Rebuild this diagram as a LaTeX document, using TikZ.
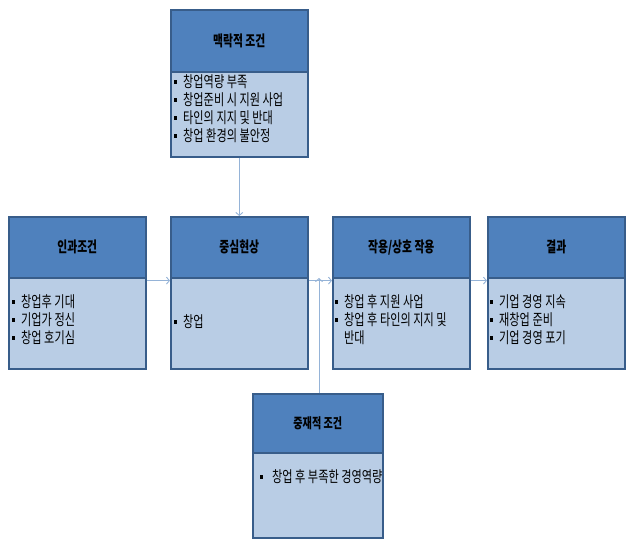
\documentclass[tikz,border=0pt]{standalone}
\usepackage{fontspec}
\setmainfont[FakeStretch=0.72]{Noto Sans CJK KR}
\usetikzlibrary{arrows.meta}
\definecolor{hdr}{HTML}{4F81BD}
\definecolor{bdy}{HTML}{B9CDE5}
\definecolor{brd}{HTML}{385D8A}
\definecolor{con}{HTML}{95B3D7}
\newcommand\bul{\rule[4pt]{3pt}{3.5pt}\hspace{6pt}}
\newcommand\bulsp{\hphantom{\rule{3pt}{3.5pt}\hspace{6pt}}}
\tikzset{
  hbox/.style={draw=brd, line width=1.6pt, fill=hdr, anchor=north west, inner sep=0pt,
    minimum width=137pt, font=\bfseries\fontsize{15}{18}\selectfont, text=black},
  bbox/.style={draw=brd, line width=1.6pt, fill=bdy, anchor=north west, inner sep=0pt,
    minimum width=137pt},
  btext/.style={anchor=west, inner sep=0pt, align=left, font=\fontsize{15.5}{18}\selectfont},
  conn/.style={draw=con, line width=0.9pt, -{Straight Barb[length=3pt,width=7pt]}}
}
\begin{document}
\begin{tikzpicture}[x=1pt,y=-1pt]
\useasboundingbox (0,0) rectangle (626,538);
% top box
\node[bbox, minimum height=85pt] (topb) at (170,71) {};
\node[hbox, minimum height=62pt] (toph) at (170,9) {맥락적 조건};
\node[btext] (topt) at (174,109) {\bul 창업역량 부족\\\bul 창업준비 시 지원 사업\\\bul 타인의 지지 및 반대\\\bul 창업 환경의 불안정};
% row
\node[bbox, minimum height=91pt] (causeb) at (8,277) {};
\node[hbox, minimum height=61pt] (causeh) at (8,216) {인과조건};
\node[btext] (causet) at (12,320) {\bul 창업후 기대\\\bul 기업가 정신\\\bul 창업 호기심};
\node[bbox, minimum height=91pt] (coreb) at (170,277) {};
\node[hbox, minimum height=61pt] (coreh) at (170,216) {중심현상};
\node[btext] (coret) at (174,322) {\bul 창업};
\node[bbox, minimum height=91pt] (actb) at (332,277) {};
\node[hbox, minimum height=61pt] (acth) at (332,216) {작용/상호 작용};
\node[btext] (actt) at (335,320) {\bul 창업 후 지원 사업\\\bul 창업 후 타인의 지지 및\\\bulsp 반대};
\node[bbox, minimum height=91pt] (resb) at (487,277) {};
\node[hbox, minimum height=61pt] (resh) at (487,216) {결과};
\node[btext] (rest) at (490,320) {\bul 기업 경영 지속\\\bul 재창업 준비\\\bul 기업 경영 포기};
% bottom box
\node[bbox, minimum width=130pt, minimum height=85pt] (medb) at (252,452) {};
\node[hbox, minimum width=130pt, minimum height=59pt, font=\bfseries\fontsize{14}{17}\selectfont] (medh) at (252,393) {중재적 조건};
\node[btext] (medt) at (260,477) {\rule[4pt]{3pt}{3.5pt}\hspace{9pt}창업 후 부족한 경영역량};
% connectors
\coordinate (junc) at (319,275);
\draw[conn] (topb.south) -- (coreh.north);
\draw[conn] ([yshift=-2pt]causeh.south east) -- ([yshift=-2pt]coreh.south west);
\draw[conn] ([yshift=-2pt]coreh.south east) -- ([yshift=-2pt]acth.south west);
\draw[conn] ([yshift=-2pt]acth.south east) -- ([yshift=-2pt]resh.south west);
\draw[conn] (medh.north -| junc) -- ([yshift=-3pt]junc);
\end{tikzpicture}
\end{document}
